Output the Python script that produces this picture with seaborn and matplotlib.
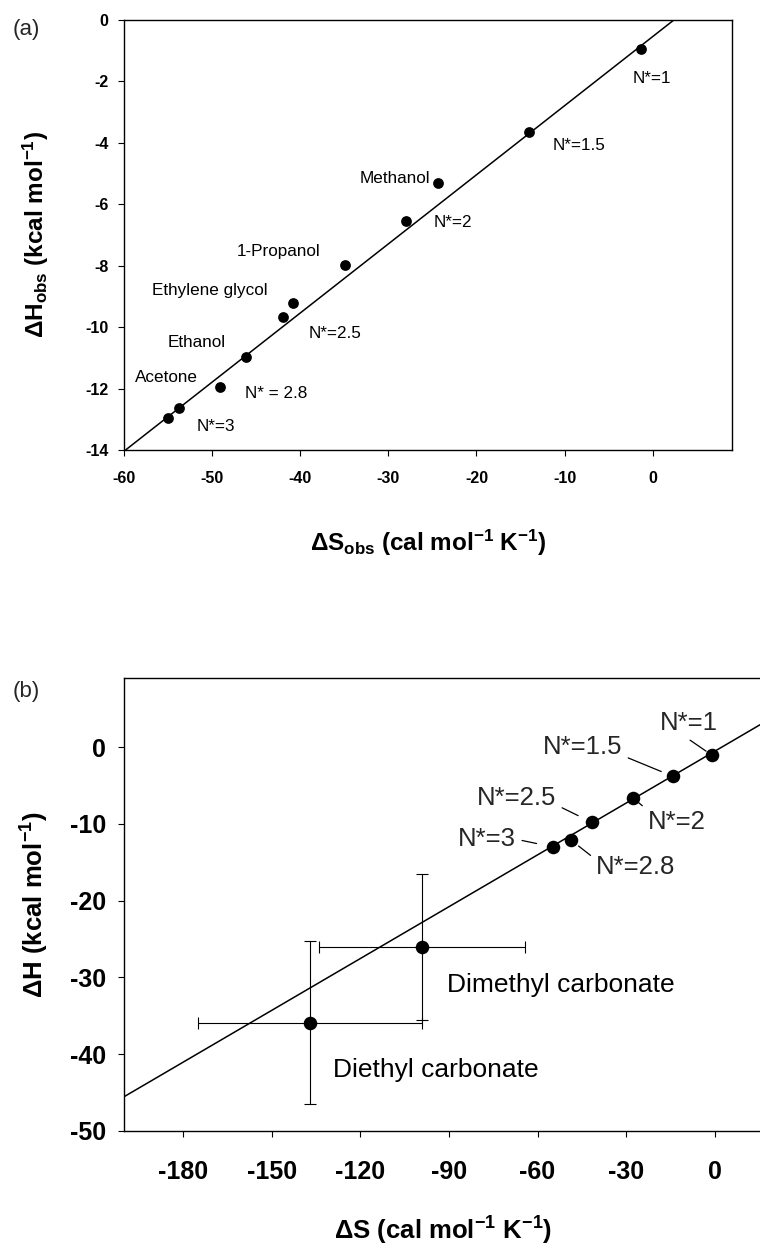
import numpy as np
import pandas as pd
import matplotlib
matplotlib.use("Agg")
import matplotlib.pyplot as plt
import seaborn as sns

sns.set_theme(style="ticks")
plt.rcParams['font.family'] = ['Liberation Sans', 'DejaVu Sans']
plt.rcParams['mathtext.fontset'] = 'custom'
plt.rcParams['mathtext.rm'] = 'Liberation Sans'
plt.rcParams['mathtext.bf'] = 'Liberation Sans:bold'
plt.rcParams['mathtext.it'] = 'Liberation Sans:italic'
plt.rcParams['axes.unicode_minus'] = False

# panel (a): observed entropy / enthalpy
a_S = [-1.3, -14.0, -24.4, -28.0, -34.9, -40.8, -41.9, -46.1, -49.1, -53.75, -55.0]
a_H = [-0.95, -3.65, -5.3, -6.55, -7.98, -9.2, -9.67, -10.98, -11.95, -12.64, -12.96]
a_labels = ["N*=1", "N*=1.5", "Methanol", "N*=2", "1-Propanol", "Ethylene glycol",
            "N*=2.5", "Ethanol", "Acetone", "N* = 2.8", "N*=3"]

# panel (b): N* points and carbonates with error bars
b_labels = ["N*=1", "N*=1.5", "N*=2", "N*=2.5", "N*=2.8", "N*=3"]
b_S = [-1.0, -14.2, -27.7, -41.6, -48.7, -54.8]
b_H = [-1.04, -3.8, -6.6, -9.8, -12.1, -13.0]
carb_names = ["Dimethyl carbonate", "Diethyl carbonate"]
carb_S = [-99.1, -137.0]
carb_H = [-26.0, -35.9]
carb_S_err = [35.0, 38.0]
carb_H_err = [9.5, 10.6]

# linear fit shared by both panels
fit_slope = 0.225
fit_intercept = -0.54

# text layout (data coords)
a_text_pos = [(-2.3, -1.92), (-11.4, -4.07), (-33.3, -5.15), (-24.9, -6.6), (-47.2, -7.55),
              (-56.8, -8.8), (-39.1, -10.2), (-55.1, -10.5), (-58.75, -11.65), (-46.25, -12.15),
              (-51.8, -13.25)]
b_text_pos = [(-18.6, 3.1), (-58.2, 0.0), (-22.7, -9.8), (-80.5, -6.6), (-40.2, -15.6), (-86.9, -12.0)]
b_relpos = [(0.4, 0.0), (1.0, 0.15), (0.0, 1.0), (1.0, 0.2), (0.0, 0.8), (1.0, 0.5)]
b_shrink = [5, 9, 4, 11, 7, 12]
carb_text_pos = [(-90.6, -31.0), (-129.2, -42.1)]

W, H = 760, 1250
fig = plt.figure(figsize=(W / 100, H / 100), dpi=100)
ax_a = fig.add_axes([124 / W, 1 - 450 / H, 608 / W, 430 / H])
ax_b = fig.add_axes([124 / W, 1 - 1131 / H, 638 / W, 453 / H])


def style_axis(ax, fs, pad_x, pad_y):
    for sp in ax.spines.values():
        sp.set_color("black")
        sp.set_linewidth(1.0)
    ax.tick_params(axis="both", direction="out", length=4, width=0.8, colors="black",
                   labelsize=fs)
    ax.tick_params(axis="x", pad=pad_x)
    ax.tick_params(axis="y", pad=pad_y)
    for lbl in ax.get_xticklabels() + ax.get_yticklabels():
        lbl.set_fontweight("bold")


# ---- panel (a)
df_a = pd.DataFrame({"S": a_S, "H": a_H})
xa = np.linspace(-60, 9, 50)
sns.lineplot(x=xa, y=fit_slope * xa + fit_intercept, ax=ax_a, color="black", lw=1.1)
sns.scatterplot(data=df_a, x="S", y="H", ax=ax_a, color="black", s=60, linewidth=0, zorder=3)
ax_a.set_xlim(-60, 9)
ax_a.set_ylim(-14, 0)
ax_a.set_xticks(range(-60, 1, 10))
ax_a.set_yticks(range(-14, 1, 2))
style_axis(ax_a, 11.5, 11, 7)
for lab, (tx, ty) in zip(a_labels, a_text_pos):
    ax_a.text(tx, ty, lab, fontsize=12.3, ha="left", va="center", color="black")
ax_a.set_xlabel(r"$\mathbf{\Delta S_{obs}\ (cal\ mol^{-1}\ K^{-1})}$", fontsize=17.5, color="black")
ax_a.set_ylabel(r"$\mathbf{\Delta H_{obs}\ (kcal\ mol^{-1})}$", fontsize=17.5, color="black")
ax_a.xaxis.set_label_coords(0.5, -0.18)
ax_a.yaxis.set_label_coords(-0.12, 0.5)

# ---- panel (b)
df_b = pd.DataFrame({"S": b_S + carb_S, "H": b_H + carb_H})
xb = np.linspace(-200, 16, 50)
sns.lineplot(x=xb, y=fit_slope * xb + fit_intercept, ax=ax_b, color="black", lw=1.1)
ax_b.errorbar(carb_S, carb_H, xerr=carb_S_err, yerr=carb_H_err, fmt="none",
              ecolor="black", elinewidth=0.8, capsize=4, capthick=0.8)
sns.scatterplot(data=df_b, x="S", y="H", ax=ax_b, color="black", s=95, linewidth=0, zorder=3)
ax_b.set_xlim(-200, 16)
ax_b.set_ylim(-50, 9)
ax_b.set_xticks(range(-180, 1, 30))
ax_b.set_yticks(range(-50, 1, 10))
style_axis(ax_b, 18, 17, 9)
ax_b.spines["right"].set_visible(False)
for lab, (tx, ty), rp, sh, px, py in zip(b_labels, b_text_pos, b_relpos, b_shrink, b_S, b_H):
    ax_b.annotate(lab, xy=(px, py), xytext=(tx, ty), fontsize=18.5, ha="left", va="center",
                  arrowprops=dict(arrowstyle="-", color="black", lw=0.9, relpos=rp,
                                  shrinkA=2, shrinkB=sh))
for lab, (tx, ty) in zip(carb_names, carb_text_pos):
    ax_b.text(tx, ty, lab, fontsize=19, ha="left", va="center", color="black")
ax_b.set_xlabel(r"$\mathbf{\Delta S\ (cal\ mol^{-1}\ K^{-1})}$", fontsize=18.5, color="black")
ax_b.set_ylabel(r"$\mathbf{\Delta H\ (kcal\ mol^{-1})}$", fontsize=18.5, color="black")
ax_b.xaxis.set_label_coords(0.5, -0.185)
ax_b.yaxis.set_label_coords(-0.115, 0.5)

fig.text(13 / W, 1 - 30 / H, "(a)", fontsize=16, ha="left", va="center")
fig.text(13 / W, 1 - 691 / H, "(b)", fontsize=16, ha="left", va="center")

fig.savefig("out.png", dpi=100, facecolor="white")
